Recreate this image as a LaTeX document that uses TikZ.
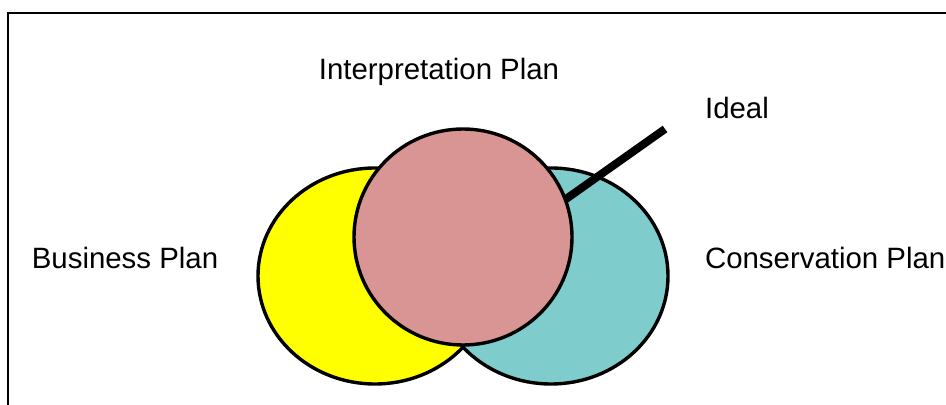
\documentclass[tikz,border=0pt]{standalone}
\usepackage{fontspec}
\setmainfont{Liberation Sans}
\definecolor{bizyellow}{RGB}{255,255,0}
\definecolor{consblue}{RGB}{127,204,204}
\definecolor{interppink}{RGB}{217,149,148}

\begin{document}
\begin{tikzpicture}[x=0.5pt,y=-0.5pt,font=\fontsize{14.7}{17}\selectfont]
  \useasboundingbox (0,0) rectangle (946,405);
  % frame, only top and left edges show
  \draw[line width=1.25pt] (8,420)--(8,13)--(960,13);
  % the three plans
  \filldraw[fill=bizyellow,line width=1.7pt] (375,276) ellipse (58.5pt and 54pt);
  \filldraw[fill=consblue,line width=1.7pt] (551,276) ellipse (58.5pt and 54pt);
  \filldraw[fill=interppink,line width=1.7pt] (463,237) ellipse (54.5pt and 54pt);
  \coordinate (idealfoot) at (566,199);
  \coordinate (idealtip) at (665,129);
  \draw[line width=4pt] (idealfoot)--(idealtip);
  \node (interp) at (439,72) {Interpretation Plan};
  \node[anchor=west] (ideal) at (698,108) {Ideal};
  \node (business) at (125,258) {Business Plan};
  \node[anchor=west] (conserv) at (698,258) {Conservation Plan};
\end{tikzpicture}
\end{document}
